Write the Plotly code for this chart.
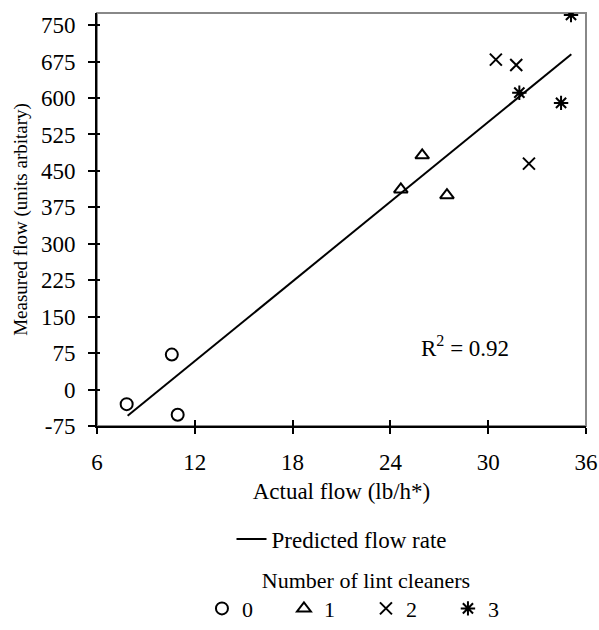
import plotly.graph_objects as go

# Data
x0 = [7.82, 10.59, 10.95]
y0 = [-30, 72, -52]
x1 = [24.64, 25.95, 27.47]
y1 = [412, 482, 400]
x2 = [30.47, 31.72, 32.50]
y2 = [679, 668, 465]
x3 = [35.08, 31.91, 34.47]
y3 = [771, 611, 590]
line_x = [7.88, 35.1]
line_y = [-54, 690]

x_ticks = [6, 12, 18, 24, 30, 36]
y_ticks = [-75, 0, 75, 150, 225, 300, 375, 450, 525, 600, 675, 750]
y_tick_labels = ["-75", "0", "75", "150", "225", "300", "375", "450", "525", "600", "675", "750"]

FONT = "Liberation Serif"
FS = 23

fig = go.Figure()
fig.add_trace(go.Scatter(x=line_x, y=line_y, mode="lines", name="Predicted flow rate",
                         line=dict(color="black", width=2), legend="legend"))
mk = dict(color="black", size=12, line=dict(color="black", width=2))
fig.add_trace(go.Scatter(x=x0, y=y0, mode="markers", name="0", legend="legend2",
                         marker=dict(symbol="circle-open", **mk)))
fig.add_trace(go.Scatter(x=x1, y=y1, mode="markers", name="1", legend="legend2",
                         marker=dict(symbol="triangle-up-open", **mk)))
fig.add_trace(go.Scatter(x=x2, y=y2, mode="markers", name="2", legend="legend2",
                         marker=dict(symbol="x-thin-open", **mk)))
fig.add_trace(go.Scatter(x=x3, y=y3, mode="markers", name="3", legend="legend2",
                         marker=dict(symbol="asterisk-open", **mk)))

# invisible trace to activate overlay axes (for ticks crossing the axis lines)
fig.add_trace(go.Scatter(x=[None], y=[None], xaxis="x2", yaxis="y2", showlegend=False))

fig.update_layout(
    width=599, height=630,
    margin=dict(l=97, r=13, t=13, b=204),
    plot_bgcolor="white", paper_bgcolor="white",
    font=dict(family=FONT, size=FS, color="black"),
    xaxis=dict(range=[6, 36], tickvals=x_ticks, ticks="outside", ticklen=6, tickwidth=1.5,
               tickcolor="black", showline=True, linecolor="black", linewidth=2,
               showgrid=False, zeroline=False, ticklabelstandoff=8, automargin=False,
               title=dict(text="Actual flow (lb/h*)", standoff=9, font=dict(size=FS))),
    yaxis=dict(range=[-75, 775], tickvals=y_ticks, ticktext=y_tick_labels, ticks="outside",
               ticklen=7, tickwidth=1.5, tickcolor="black", showline=True, linecolor="black",
               linewidth=2, showgrid=False, zeroline=False, ticklabelstandoff=8, automargin=False,
               title=dict(text="Measured flow (units arbitary)", standoff=8, font=dict(size=19))),
    xaxis2=dict(range=[6, 36], tickvals=x_ticks, ticks="inside", ticklen=6, tickwidth=1.5,
                tickcolor="black", showticklabels=False, showgrid=False, zeroline=False,
                overlaying="x", anchor="y", automargin=False),
    yaxis2=dict(range=[-75, 775], tickvals=y_ticks, ticks="inside", ticklen=3, tickwidth=1.5,
                tickcolor="black", showticklabels=False, showgrid=False, zeroline=False,
                overlaying="y", anchor="x", automargin=False),
    shapes=[dict(type="rect", xref="x domain", yref="y domain", x0=0, x1=1, y0=0, y1=1,
                 line=dict(color="#888888", width=2), layer="below")],
    annotations=[dict(x=28.6, y=88, xref="x", yref="y", text="R<sup>2</sup> = 0.92",
                      showarrow=False, font=dict(size=FS))],
    legend=dict(x=0.5, xanchor="center", y=0.1444, yref="container", yanchor="middle",
                orientation="h", font=dict(size=FS), bgcolor="rgba(0,0,0,0)"),
    legend2=dict(x=0.55, xanchor="center", y=-0.011, yref="container", yanchor="bottom",
                 orientation="h",
                 title=dict(text="Number of lint cleaners", side="top center", font=dict(size=22)),
                 font=dict(size=22), entrywidth=37, entrywidthmode="pixels",
                 bgcolor="rgba(0,0,0,0)", tracegroupgap=0),
)

fig.write_html("out.html")
